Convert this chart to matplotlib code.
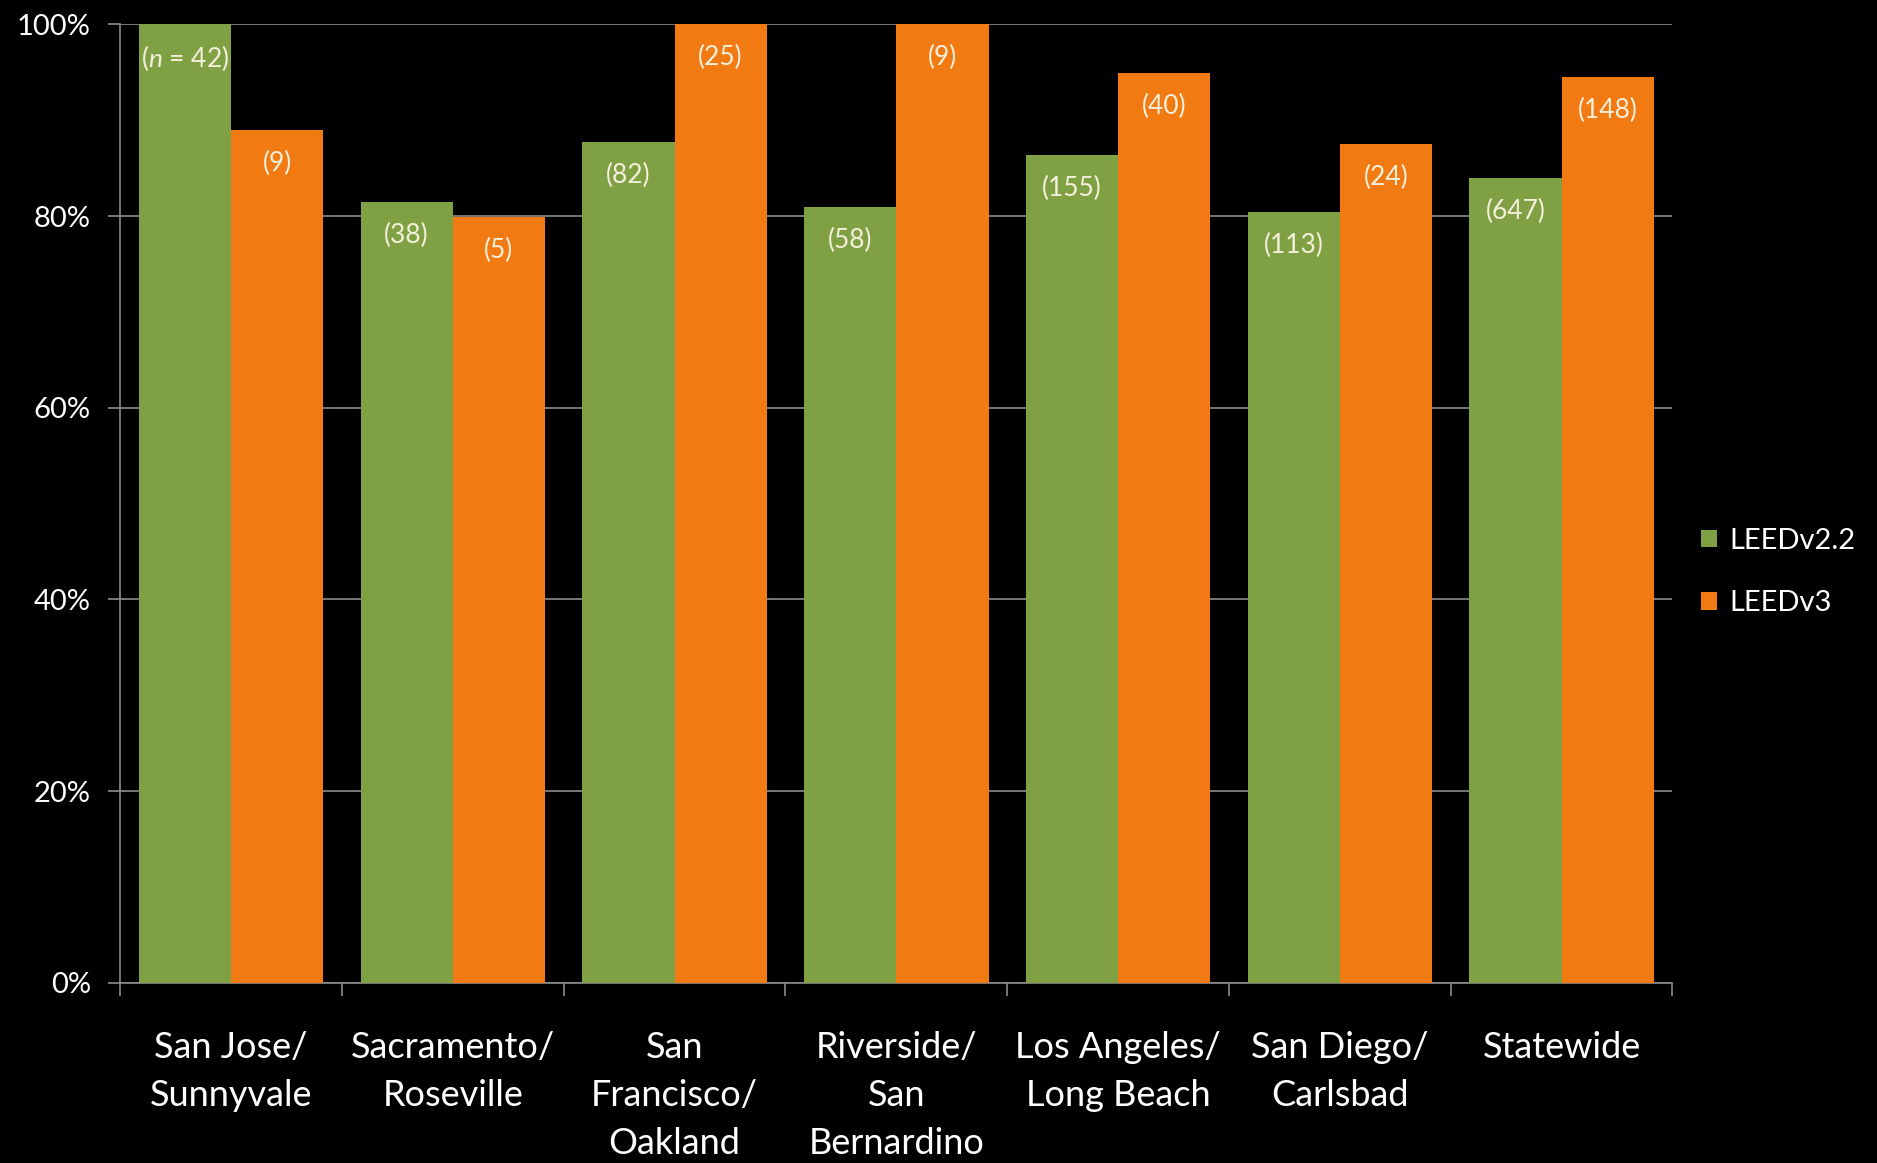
import numpy as np
import matplotlib
matplotlib.use("Agg")
import matplotlib.pyplot as plt
from matplotlib.ticker import FixedLocator, PercentFormatter

plt.rcParams['font.family'] = ['Lato', 'DejaVu Sans']
plt.rcParams['mathtext.fontset'] = 'custom'
plt.rcParams['mathtext.rm'] = 'Lato'
plt.rcParams['mathtext.it'] = 'Lato:italic'

# data
regions = ['San Jose/\nSunnyvale', 'Sacramento/\nRoseville', 'San\nFrancisco/\nOakland',
           'Riverside/\nSan\nBernardino', 'Los Angeles/\nLong Beach', 'San Diego/\nCarlsbad',
           'Statewide']
leed_v22 = [100.0, 81.5, 87.7, 80.9, 86.4, 80.4, 84.0]
leed_v3 = [89.0, 79.9, 100.0, 100.0, 94.9, 87.5, 94.5]
n_v22 = ['($\\it{n}$ = 42)', '(38)', '(82)', '(58)', '(155)', '(113)', '(647)']
n_v3 = ['(9)', '(5)', '(25)', '(9)', '(40)', '(24)', '(148)']

green = '#80a044'
orange = '#f27a12'
grid_col = '#8c8c8c'
label_col = '#f4f0dc'

fig = plt.figure(figsize=(18.77, 11.63), dpi=100, facecolor='black')
ax = fig.add_axes([0.064, 0.155, 0.827, 0.824], facecolor='black')

x = np.arange(len(regions))
w = 0.416
b1 = ax.bar(x - w / 2, leed_v22, w, color=green, label='LEEDv2.2', zorder=3)
b2 = ax.bar(x + w / 2, leed_v3, w, color=orange, label='LEEDv3', zorder=3)

for bars, labels in ((b1, n_v22), (b2, n_v3)):
    for rect, lab in zip(bars, labels):
        ax.annotate(lab, (rect.get_x() + rect.get_width() / 2, rect.get_height()),
                    xytext=(0, -24), textcoords='offset points', ha='center', va='center',
                    color=label_col, fontsize=19, zorder=4)

ax.set_xlim(-0.5, len(regions) - 0.5)
ax.set_ylim(0, 100)
ax.yaxis.set_major_locator(FixedLocator([0, 20, 40, 60, 80, 100]))
ax.yaxis.set_major_formatter(PercentFormatter(decimals=0))
ax.yaxis.grid(True, color=grid_col, linewidth=1.2, zorder=0)

ax.set_xticks(x)
ax.set_xticklabels(regions, fontsize=26, color='white', linespacing=1.55)
ax.xaxis.set_minor_locator(FixedLocator(np.arange(-0.5, len(regions), 1.0)))
ax.tick_params(axis='x', which='major', length=0, pad=35)
ax.tick_params(axis='x', which='minor', length=9, color=grid_col, width=1.2)
ax.tick_params(axis='y', length=9, color=grid_col, width=1.2, labelsize=21,
               labelcolor='white', pad=12)
for lab in ax.get_xticklabels():
    lab.set_verticalalignment('top')

for s in ('top', 'right'):
    ax.spines[s].set_visible(False)
for s in ('left', 'bottom'):
    ax.spines[s].set_color(grid_col)
    ax.spines[s].set_linewidth(1.2)

leg = fig.legend(loc='center left', bbox_to_anchor=(0.892, 0.508), frameon=False,
                 fontsize=21, labelcolor='white', handlelength=0.55, handleheight=0.55,
                 handletextpad=0.45, labelspacing=1.25)

fig.savefig('out.png', dpi=100, facecolor='black')
